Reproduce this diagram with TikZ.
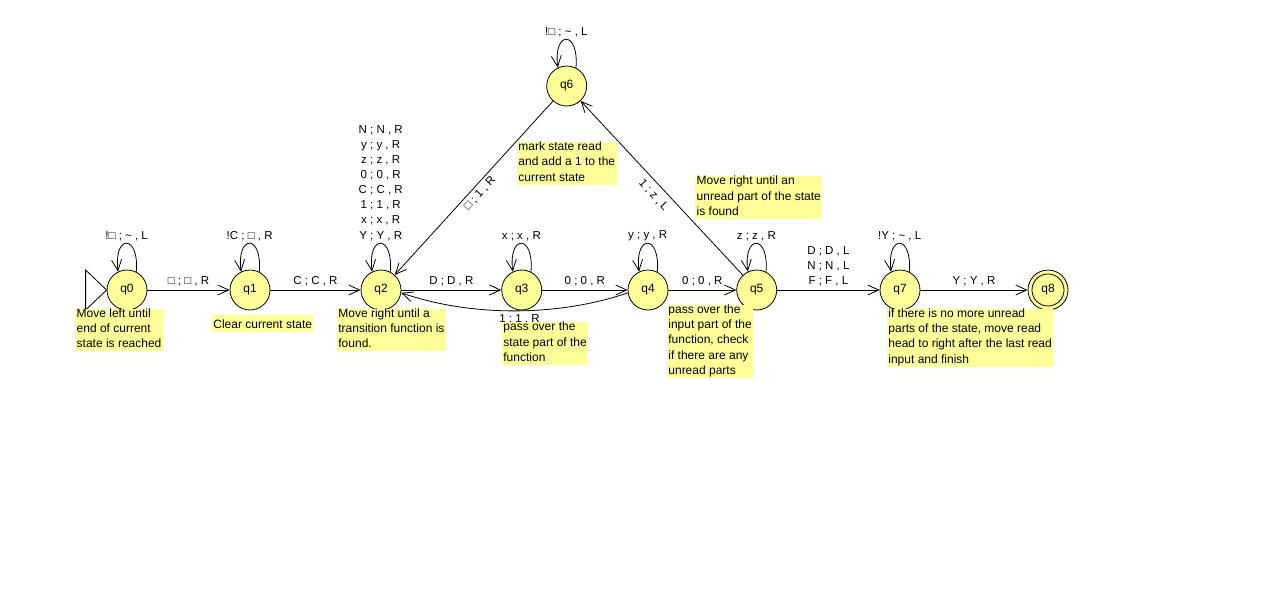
\documentclass[tikz,border=0pt]{standalone}
\usepackage{fontspec}
\setmainfont{Liberation Sans}
\usetikzlibrary{arrows.meta}
\definecolor{stfill}{RGB}{255,255,153}
\definecolor{notefill}{RGB}{255,255,153}
% strut for the first and last line of a note
\newcommand\notestrut{\rule[-3.5pt]{0pt}{16.5pt}}
% self loop drawn above a state
\newcommand\selfloop[2]{%
  \draw[edge] (#1.63) .. controls +(85:38pt) and +(97:38pt) .. (#1.116)
    node[lbl,pos=0.5,above=1.5pt] {#2};}
\begin{document}
\begin{tikzpicture}[x=1pt,y=-1pt,
  state/.style={circle,draw,fill=stfill,minimum size=40pt,inner sep=0pt,
    line width=0.8pt,font=\fontsize{12}{14}\selectfont},
  edge/.style={draw,line width=0.8pt,-{Straight Barb[length=11pt,width=10pt]}},
  lbl/.style={font=\fontsize{11.5}{15.1}\selectfont,inner sep=1pt,align=center},
  note/.style={fill=notefill,anchor=north west,inner xsep=1.5pt,inner ysep=0pt,
    align=left,font=\fontsize{12}{15.4}\selectfont,
    execute at begin node=\notestrut,execute at end node=\notestrut},
]
\useasboundingbox (0,0) rectangle (1269,597);
\fill[white] (0,0) rectangle (1269,597);

% states
\node[state] (q0) at (127,290) {q0};
\node[state] (q1) at (250,290) {q1};
\node[state] (q2) at (381,290) {q2};
\node[state] (q3) at (521.7,290) {q3};
\node[state] (q4) at (648,290) {q4};
\node[state] (q5) at (756.7,290) {q5};
\node[state] (q6) at (566.7,86) {q6};
\node[state] (q7) at (900,290) {q7};
\node[state] (q8) at (1048,290) {q8};
\draw[line width=0.8pt] (q8) circle[radius=16pt];

% start marker
\draw[line width=0.8pt] (q0.west) -- ++(-21,-20) -- ++(0,40) -- cycle;

% transitions
\draw[edge] (q0) -- node[lbl,above=2.5pt] {□ ; □ , R} (q1);
\draw[edge] (q1) -- node[lbl,above=2.5pt] {C ; C , R} (q2);
\draw[edge] (q2) -- node[lbl,above=2.5pt] {D ; D , R} (q3);
\draw[edge] (q3) -- node[lbl,above=2.5pt] {0 ; 0 , R} (q4);
\draw[edge] (q4) -- node[lbl,above=2.5pt] {0 ; 0 , R} (q5);
\draw[edge] (q5) -- node[lbl,above=2.5pt] {D ; D , L\\N ; N , L\\F ; F , L} (q7);
\draw[edge] (q7) -- node[lbl,above=2.5pt] {Y ; Y , R} (q8);
\draw[edge] (q6) -- node[lbl,sloped,below=2pt] {□ ; 1 , R} (q2);
\draw[edge] (q5) -- node[lbl,sloped,below=5pt] {1 ; z , L} (q6);
\draw[edge] (q4.188) .. controls +(-70,24) and +(70,24) .. (q2.352)
  node[lbl,pos=0.5,below=2pt,xshift=5pt] {1 ; 1 , R};

% self loops
\selfloop{q0}{!□ ; \textasciitilde\ , L}
\selfloop{q1}{!C ; □ , R}
\selfloop{q2}{N ; N , R\\y ; y , R\\z ; z , R\\0 ; 0 , R\\C ; C , R\\1 ; 1 , R\\x ; x , R\\Y ; Y , R}
\selfloop{q3}{x ; x , R}
\selfloop{q4}{y ; y , R}
\selfloop{q5}{z ; z , R}
\selfloop{q6}{!□ ; \textasciitilde\ , L}
\selfloop{q7}{!Y ; \textasciitilde\ , L}

% notes
\node[note] (n0) at (75,308.3) {Move left until\\end of current\\state is reached};
\node[note] (n1) at (211.7,315) {Clear current state};
\node[note] (n2) at (336.7,308.3) {Move right until a\\transition function is\\found.};
\node[note] (n3) at (501.7,321.7) {pass over the\\state part of the\\function};
\node[note] (n4) at (666.7,304.3) {pass over the\\input part of the\\function, check\\if there are any\\unread parts};
\node[note] (n6) at (516.7,141.7) {mark state read\\and add a 1 to the\\current state};
\node[note] (n5) at (695,176) {Move right until an\\unread part of the state\\is found};
\node[note] (n7) at (886.7,308.3) {if there is no more unread\\parts of the state, move read\\head to right after the last read\\input and finish};
\end{tikzpicture}
\end{document}
